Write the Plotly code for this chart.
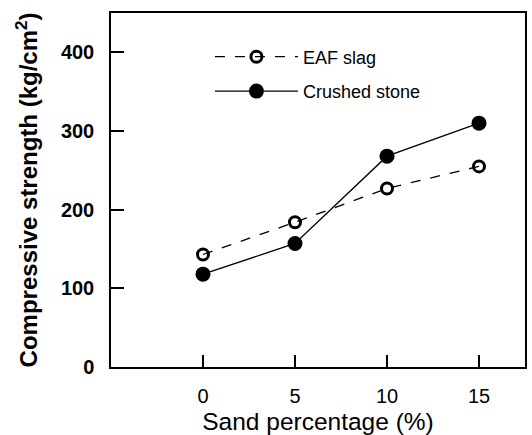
import plotly.graph_objects as go

sand_pct = [0, 5, 10, 15]
eaf_slag = [143, 184, 227, 255]
crushed_stone = [118, 157, 268, 310]
x_ticks = [0, 5, 10, 15]
y_ticks = [0, 100, 200, 300, 400]

FONT = "Liberation Sans, Arial, sans-serif"

fig = go.Figure()
fig.add_trace(go.Scatter(
    x=sand_pct, y=eaf_slag, name="EAF slag", mode="lines+markers",
    legendgroup="a",
    line=dict(color="black", width=1.3, dash="10px,10px"),
    marker=dict(symbol="circle-open", size=11, color="black", line=dict(width=3)),
))
fig.add_trace(go.Scatter(
    x=sand_pct, y=crushed_stone, name="Crushed stone", mode="lines+markers",
    legendgroup="b",
    line=dict(color="black", width=1.3),
    marker=dict(symbol="circle", size=15, color="black"),
))

fig.update_layout(
    width=532, height=435,
    margin=dict(l=111, r=7, t=13, b=68, autoexpand=False),
    paper_bgcolor="white", plot_bgcolor="white",
    font=dict(family=FONT, color="black"),
    showlegend=True,
    legend=dict(x=0.239, y=0.928, xanchor="left", yanchor="top",
                bgcolor="rgba(0,0,0,0)", font=dict(size=18, family=FONT),
                tracegroupgap=8, itemwidth=83),
)
fig.update_xaxes(
    range=[-5, 17.5], tickvals=x_ticks, ticks="inside", ticklen=12,
    tickwidth=1.5, tickcolor="black", showline=True, linecolor="black",
    linewidth=1.5, mirror=True, showgrid=False, zeroline=False,
    automargin=False,
    tickfont=dict(size=20, family=FONT), ticklabelstandoff=10,
    title=dict(text="Sand percentage (%)", font=dict(size=24.5, family=FONT), standoff=10),
)
fig.update_yaxes(
    range=[0, 450], tickvals=y_ticks, ticks="inside", ticklen=13,
    tickwidth=1.5, tickcolor="black", showline=True, linecolor="black",
    linewidth=1.5, mirror=True, showgrid=False, zeroline=False,
    automargin=False,
    tickfont=dict(size=20, family=FONT, weight="bold"), ticklabelstandoff=11,
    title=dict(text="Compressive strength (kg/cm<sup>2</sup>)",
               font=dict(size=24, family=FONT, weight="bold"), standoff=16),
)

fig.write_html("out.html", config={"displayModeBar": False},
               post_script="document.body.style.margin='0';")
